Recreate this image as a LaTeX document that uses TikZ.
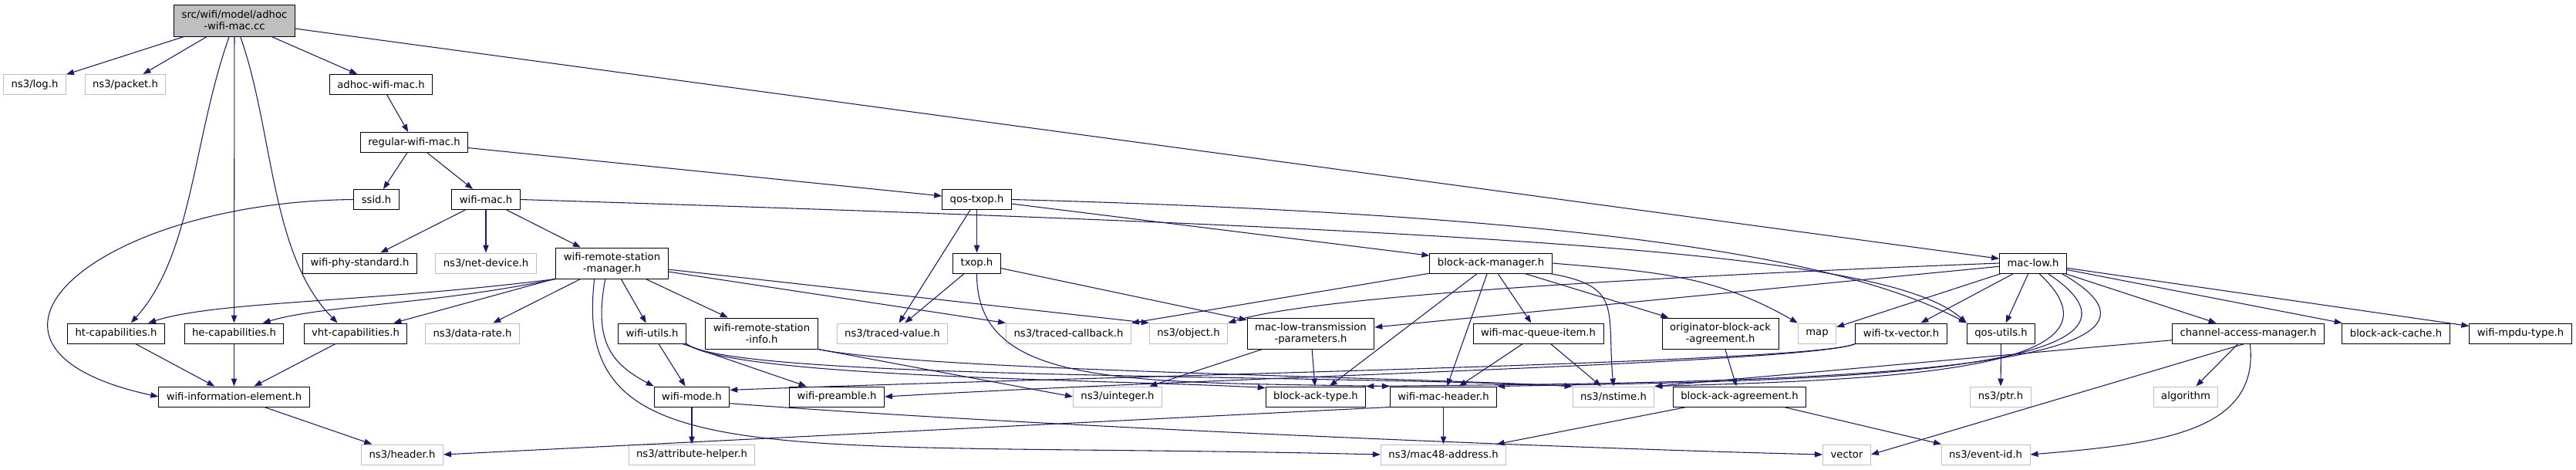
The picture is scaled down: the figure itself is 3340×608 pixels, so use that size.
\documentclass[tikz,border=0pt]{standalone}
\usepackage{fontspec}
\setmainfont{DejaVu Sans}
\usetikzlibrary{arrows.meta}
\definecolor{edgeblue}{HTML}{191970}
\definecolor{boxgray}{HTML}{BFBFBF}

\begin{document}
\begin{tikzpicture}[x=0.75pt, y=-0.75pt,
    every node/.style={font=\fontsize{9.9}{11.25}\selectfont, inner xsep=7.5pt, inner ysep=0pt, minimum height=19.5pt, align=center},
    file/.style={draw=black, line width=0.75pt, fill=white},
    ext/.style={draw=boxgray, line width=0.75pt, fill=white},
    two/.style={minimum height=30pt},
    dep/.style={draw=edgeblue, line width=0.8pt, -{Triangle[length=7.5pt,width=5.5pt]}}]
    \useasboundingbox (0,0) rectangle (3340,608);

    % Draw nodes
    \node[file, fill=boxgray, two, minimum height=30.75pt] (1) at (304,26.5) {src/wifi/model/adhoc\\-wifi-mac.cc};
    \node[ext] (2) at (45,109.5) {ns3/log.h};
    \node[ext] (3) at (162.5,109.5) {ns3/packet.h};
    \node[file] (4) at (494,109.5) {adhoc-wifi-mac.h};
    \node[file] (5) at (537,184.5) {regular-wifi-mac.h};
    \node[file] (6) at (488,258.5) {ssid.h};
    \node[file] (7) at (630,258.5) {wifi-mac.h};
    \node[file] (8) at (1266.5,258.5) {qos-txop.h};
    \node[file] (9) at (466.5,341) {wifi-phy-standard.h};
    \node[ext] (10) at (630,341) {ns3/net-device.h};
    \node[file, two] (11) at (793.5,341) {wifi-remote-station\\-manager.h};
    \node[file] (12) at (1266.5,341) {txop.h};
    \node[file] (13) at (1933,341) {block-ack-manager.h};
    \node[file] (14) at (2636,341) {mac-low.h};
    \node[file] (15) at (150.5,432) {ht-capabilities.h};
    \node[file] (16) at (303.5,432) {he-capabilities.h};
    \node[file] (17) at (461,432) {vht-capabilities.h};
    \node[ext] (18) at (612.5,432) {ns3/data-rate.h};
    \node[file] (19) at (845.5,432) {wifi-utils.h};
    \node[file, two] (20) at (987.5,432) {wifi-remote-station\\-info.h};
    \node[ext] (21) at (1157,432) {ns3/traced-value.h};
    \node[ext] (22) at (1385.5,432) {ns3/traced-callback.h};
    \node[ext] (23) at (1541,432) {ns3/object.h};
    \node[file, two] (24) at (1699.5,432) {mac-low-transmission\\-parameters.h};
    \node[file] (25) at (1994.5,432) {wifi-mac-queue-item.h};
    \node[file, two] (26) at (2230.5,432) {originator-block-ack\\-agreement.h};
    \node[ext] (27) at (2356,432) {map};
    \node[file] (28) at (2465,432) {wifi-tx-vector.h};
    \node[file] (29) at (2594.5,432) {qos-utils.h};
    \node[file] (30) at (2915,432) {channel-access-manager.h};
    \node[file] (31) at (3106.5,432) {block-ack-cache.h};
    \node[file] (32) at (3268,432) {wifi-mpdu-type.h};
    \node[file] (33) at (303.5,514) {wifi-information-element.h};
    \node[file] (34) at (897,514) {wifi-mode.h};
    \node[file] (35) at (1085,514) {wifi-preamble.h};
    \node[ext] (36) at (1449,514) {ns3/uinteger.h};
    \node[file] (37) at (1706,514) {block-ack-type.h};
    \node[file] (38) at (1871.5,514) {wifi-mac-header.h};
    \node[ext] (39) at (2092,514) {ns3/nstime.h};
    \node[file] (40) at (2255.5,514) {block-ack-agreement.h};
    \node[ext] (41) at (2594,514) {ns3/ptr.h};
    \node[ext] (42) at (2834,514) {algorithm};
    \node[ext] (43) at (521.5,589) {ns3/header.h};
    \node[ext] (44) at (897,589) {ns3/attribute-helper.h};
    \node[ext] (45) at (1871.5,589) {ns3/mac48-address.h};
    \node[ext] (46) at (2394.5,589) {vector};
    \node[ext] (47) at (2574.5,589) {ns3/event-id.h};

    % Draw edges
    \draw[dep] (1) -- (2);
    \draw[dep] (1) -- (3);
    \draw[dep] (1) -- (4);
    \draw[dep] (1) -- (14);
    \draw[dep] (1.-108) .. controls (250,180) and (250,330) .. (15.35);
    \draw[dep] (1) -- (16);
    \draw[dep] (1.-70) .. controls (355,170) and (350,330) .. (17.150);
    \draw[dep] (4) -- (5);
    \draw[dep] (5) -- (6);
    \draw[dep] (5) -- (7);
    \draw[dep] (5) -- (8);
    \draw[dep] (6.west) .. controls (120,262) and (-90,450) .. (33.west);
    \draw[dep] (7) -- (9);
    \draw[dep] (7) -- (10);
    \draw[dep] (7) -- (11);
    \draw[dep] (7.east) .. controls (2000,300) and (2450,330) .. (29.north west);
    \draw[dep] (8) -- (12);
    \draw[dep] (8) -- (21);
    \draw[dep] (8) -- (13);
    \draw[dep] (8.east) .. controls (2100,280) and (2400,340) .. (29.north west);
    \draw[dep] (12) -- (21);
    \draw[dep] (12) -- (24);
    \draw[dep] (12.south) .. controls (1266,500) and (1450,495) .. (38.north west);
    \draw[dep] (13) -- (22);
    \draw[dep] (13) -- (37);
    \draw[dep] (13) -- (38);
    \draw[dep] (13) -- (25);
    \draw[dep] (13) -- (26);
    \draw[dep] (13.-10) .. controls (2105,371) and (2083,401) .. (39.north);
    \draw[dep] (13.east) .. controls (2140,352) and (2219,354.5) .. (27.north west);
    \draw[dep] (14.west) .. controls (2100,360) and (1700,385) .. (23.north east);
    \draw[dep] (14) -- (24);
    \draw[dep] (14) -- (27);
    \draw[dep] (14) -- (28);
    \draw[dep] (14) -- (29);
    \draw[dep] (14) -- (30);
    \draw[dep] (14) -- (31);
    \draw[dep] (14) -- (32);
    \draw[dep] (14.-60) .. controls (2780,480) and (2450,492) .. (39.north east);
    \draw[dep] (14.-35) .. controls (2860,490) and (2300,494) .. (38.north east);
    \draw[dep] (14.-20) .. controls (2920,495) and (2200,496) .. (37.north east);
    \draw[dep] (11.south west) .. controls (480,392) and (280,390) .. (15.18);
    \draw[dep] (11.south west) .. controls (560,395) and (420,395) .. (16.20);
    \draw[dep] (11) -- (17);
    \draw[dep] (11) -- (18);
    \draw[dep] (11) -- (19);
    \draw[dep] (11) -- (20);
    \draw[dep] (11) -- (22.north west);
    \draw[dep] (11) -- (23.north west);
    \draw[dep] (11.-113) .. controls (770,440) and (790,470) .. (34.north west);
    \draw[dep] (11.-138) .. controls (740,620) and (1000,570) .. (45.west);
    \draw[dep] (15) -- (33);
    \draw[dep] (16) -- (33);
    \draw[dep] (17) -- (33);
    \draw[dep] (33) -- (43);
    \draw[dep] (19) -- (34);
    \draw[dep] (19) -- (35);
    \draw[dep] (19.south east) .. controls (950,490) and (1450,492) .. (37.170);
    \draw[dep] (19.south east) .. controls (950,492) and (1700,485) .. (39.north west);
    \draw[dep] (20.south east) -- (36.west);
    \draw[dep] (20.south east) .. controls (1200,480) and (1800,488) .. (39.north west);
    \draw[dep] (24) -- (36);
    \draw[dep] (24) -- (37);
    \draw[dep] (25) -- (38);
    \draw[dep] (25) -- (39);
    \draw[dep] (26) -- (40);
    \draw[dep] (28.south west) .. controls (2350,470) and (1500,485) .. (34.10);
    \draw[dep] (28.south west) .. controls (2350,470) and (1600,488) .. (35.east);
    \draw[dep] (29) -- (41);
    \draw[dep] (30) -- (39.north east);
    \draw[dep] (30.-110) -- (46.east);
    \draw[dep] (30) -- (42);
    \draw[dep] (30.-80) .. controls (2930,560) and (2800,575) .. (47.east);
    \draw[dep] (34) -- (44);
    \draw[dep] (34.-10) .. controls (1300,550) and (2000,580) .. (46.west);
    \draw[dep] (38) -- (45);
    \draw[dep] (38.south west) -- (43.east);
    \draw[dep] (40) -- (45);
    \draw[dep] (40) -- (47);
\end{tikzpicture}
\end{document}
